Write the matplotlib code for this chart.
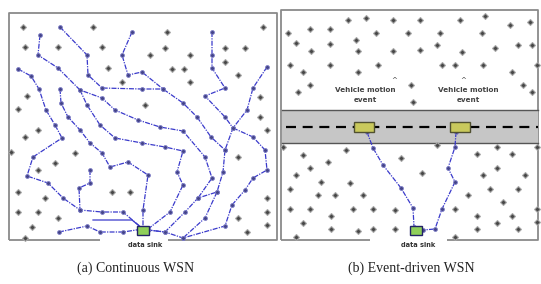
import numpy as np
import matplotlib
matplotlib.use('Agg')
import matplotlib.pyplot as plt
from matplotlib.patches import Rectangle

# --- panel (a): continuous WSN, pixel coords ---
a_idle = [(23, 27), (93, 27), (167, 32), (263, 27), (25, 47), (58, 47), (102, 47),
          (165, 48), (150, 55), (190, 55), (225, 48), (245, 48), (225, 62), (108, 68),
          (172, 69), (184, 69), (238, 75), (122, 82), (190, 82), (27, 96), (18, 109),
          (145, 105), (260, 97), (260, 117), (25, 137), (38, 130), (11, 152), (75, 153),
          (55, 163), (38, 170), (18, 192), (45, 198), (112, 192), (130, 192), (18, 212),
          (38, 212), (58, 218), (32, 227), (25, 238), (267, 130), (238, 157), (267, 198),
          (267, 212), (267, 225), (247, 232), (238, 218)]

a_paths = [
    [(18, 69), (31, 76), (39, 89), (46, 110), (55, 125), (62, 138), (33, 157), (27, 176),
     (48, 183), (63, 198), (80, 210), (102, 212), (123, 212), (143, 229)],
    [(59, 232), (87, 226), (100, 232), (123, 232), (143, 229)],
    [(90, 170), (90, 183), (79, 188), (80, 210)],
    [(60, 89), (61, 103), (68, 117), (80, 130), (90, 143), (102, 153), (110, 167),
     (128, 162), (148, 175), (143, 210), (143, 229)],
    [(40, 35), (38, 55), (58, 68), (80, 90), (102, 98), (115, 110), (138, 120),
     (160, 127), (183, 131), (205, 157), (212, 178), (198, 198)],
    [(80, 90), (87, 105), (100, 125), (115, 138), (142, 143), (165, 147), (183, 151),
     (177, 172), (183, 185), (170, 212), (148, 229)],
    [(60, 27), (87, 55), (88, 75), (102, 88), (142, 89), (163, 89), (183, 103),
     (197, 117), (211, 137), (225, 150), (223, 172), (217, 192), (198, 198),
     (185, 212), (165, 232), (148, 230)],
    [(132, 32), (122, 55), (128, 75), (142, 72), (163, 89)],
    [(267, 67), (253, 88), (247, 110), (233, 128), (225, 150)],
    [(212, 32), (212, 55), (212, 68), (225, 88), (205, 96), (225, 117), (233, 128)],
    [(233, 128), (253, 137), (265, 150), (267, 170), (253, 178), (245, 190),
     (232, 205), (225, 226), (183, 238), (165, 232), (148, 230)],
    [(217, 192), (205, 218), (183, 238)],
]
a_guide = [(93, 220), (132, 220), (143, 229)]   # plain line, no nodes

# --- panel (b): event-driven WSN ---
b_idle = [(348, 20), (366, 18), (393, 20), (288, 33), (310, 29), (330, 29), (376, 33),
          (408, 33), (296, 43), (330, 44), (356, 40), (311, 51), (358, 51), (393, 51),
          (290, 65), (330, 65), (378, 65), (303, 72), (358, 72), (310, 85), (298, 92),
          (411, 85), (413, 102), (420, 20), (460, 20), (485, 16), (510, 25), (530, 22),
          (440, 33), (482, 33), (437, 45), (420, 50), (462, 52), (495, 48), (518, 45),
          (532, 45), (442, 65), (455, 65), (483, 65), (512, 72), (537, 65), (523, 85),
          (532, 92),
          (283, 147), (303, 155), (346, 150), (328, 162), (310, 168), (401, 158),
          (296, 175), (321, 182), (350, 183), (290, 189), (318, 195), (335, 195),
          (363, 195), (290, 209), (310, 209), (331, 216), (353, 209), (373, 209),
          (395, 210), (303, 223), (331, 229), (358, 231), (373, 229), (395, 229),
          (296, 237), (437, 145), (477, 154), (497, 147), (512, 154), (537, 147),
          (422, 173), (483, 175), (497, 168), (525, 175), (468, 195), (490, 189),
          (518, 189), (503, 202), (455, 209), (477, 216), (512, 216), (537, 209),
          (497, 223), (477, 229), (518, 229), (455, 237), (537, 222)]

b_paths = [
    [(367, 132), (373, 148), (383, 165), (401, 188), (413, 208), (414, 227)],
    [(456, 132), (455, 147), (448, 168), (455, 182), (442, 209), (435, 229), (423, 230)],
]
event_box_x = [364, 460]
event_label_x = [365, 468]
event_labels = ['Vehicle motion\nevent', 'Vehicle motion\nevent']
caret_x = [394, 463]

panel_boxes = [(9, 13, 277, 240, 100, 168), (281, 10, 538, 240, 370, 447)]
sink_x = [143, 416]
captions = ['(a) Continuous WSN', '(b) Event-driven WSN']
caption_x = [136, 411]

LINE = '#3a3acb'
NODE_FACE = '#474747'
NODE_EDGE = '#a8a8a8'

fig = plt.figure(figsize=(5.41, 2.84), dpi=100)
ax = fig.add_axes([0, 0, 1, 1])
ax.set_xlim(0, 541)
ax.set_ylim(284, 0)
ax.axis('off')

# frames with a gap at the bottom for the sink label
for x0, y0, x1, y1, g0, g1 in panel_boxes:
    kw = dict(color='#8a8a8a', lw=1.3, solid_capstyle='butt', zorder=1)
    ax.plot([x0, x0, x1, x1, g1], [y1, y0, y0, y1, y1], **kw)
    ax.plot([x0, g0], [y1, y1], **kw)

# road
ax.add_patch(Rectangle((282, 110), 256, 33, facecolor='#c6c6c6', edgecolor='none', zorder=1))
ax.plot([282, 538], [110, 110], color='#555555', lw=1.0, zorder=2)
ax.plot([282, 538], [143, 143], color='#555555', lw=1.0, zorder=2)
ax.plot([286, 538], [127, 127], color='black', lw=1.6, ls=(0, (4.5, 3)), zorder=2)

# idle nodes
for pts in (a_idle, b_idle):
    xy = np.array(pts)
    ax.plot(xy[:, 0], xy[:, 1], 'D', ms=3.0, mfc=NODE_FACE, mec=NODE_EDGE, mew=0.8, zorder=3)

# routing trees
for path in a_paths + b_paths:
    xy = np.array(path)
    ax.plot(xy[:, 0], xy[:, 1], color=LINE, lw=0.9, ls=(0, (4, 1, 1, 1)), zorder=4)
    ax.plot(xy[:, 0], xy[:, 1], 'o', ms=2.8, mfc='#45458a', mec='#8080c8', mew=0.6, zorder=5)
g = np.array(a_guide)
ax.plot(g[:, 0], g[:, 1], color=LINE, lw=0.9, zorder=4)

# event boxes and labels
for bx in event_box_x:
    ax.add_patch(Rectangle((bx - 10, 122), 20, 10, facecolor='#c9c95c',
                           edgecolor='#505030', lw=1.0, zorder=6))
for lx, lab in zip(event_label_x, event_labels):
    ax.text(lx, 95, lab, ha='center', va='center', fontsize=5.2, fontweight='bold',
            color='#444444', linespacing=1.7, zorder=6)
for cx in caret_x:
    ax.text(cx, 80, '^', ha='center', va='center', fontsize=5, color='#444444')

# sinks
for sx in sink_x:
    ax.add_patch(Rectangle((sx - 6, 226), 12, 9, facecolor='#8fcf5a', edgecolor='#222266',
                           lw=1.0, zorder=7))
    ax.text(sx + 2, 245, 'data sink', ha='center', va='center', fontsize=4.8,
            fontweight='bold', color='#333333')

for cx, cap in zip(caption_x, captions):
    ax.text(cx, 268, cap, ha='center', va='center', fontsize=10,
            family='Liberation Serif', color='#222222')

fig.savefig('out.png', dpi=100)
